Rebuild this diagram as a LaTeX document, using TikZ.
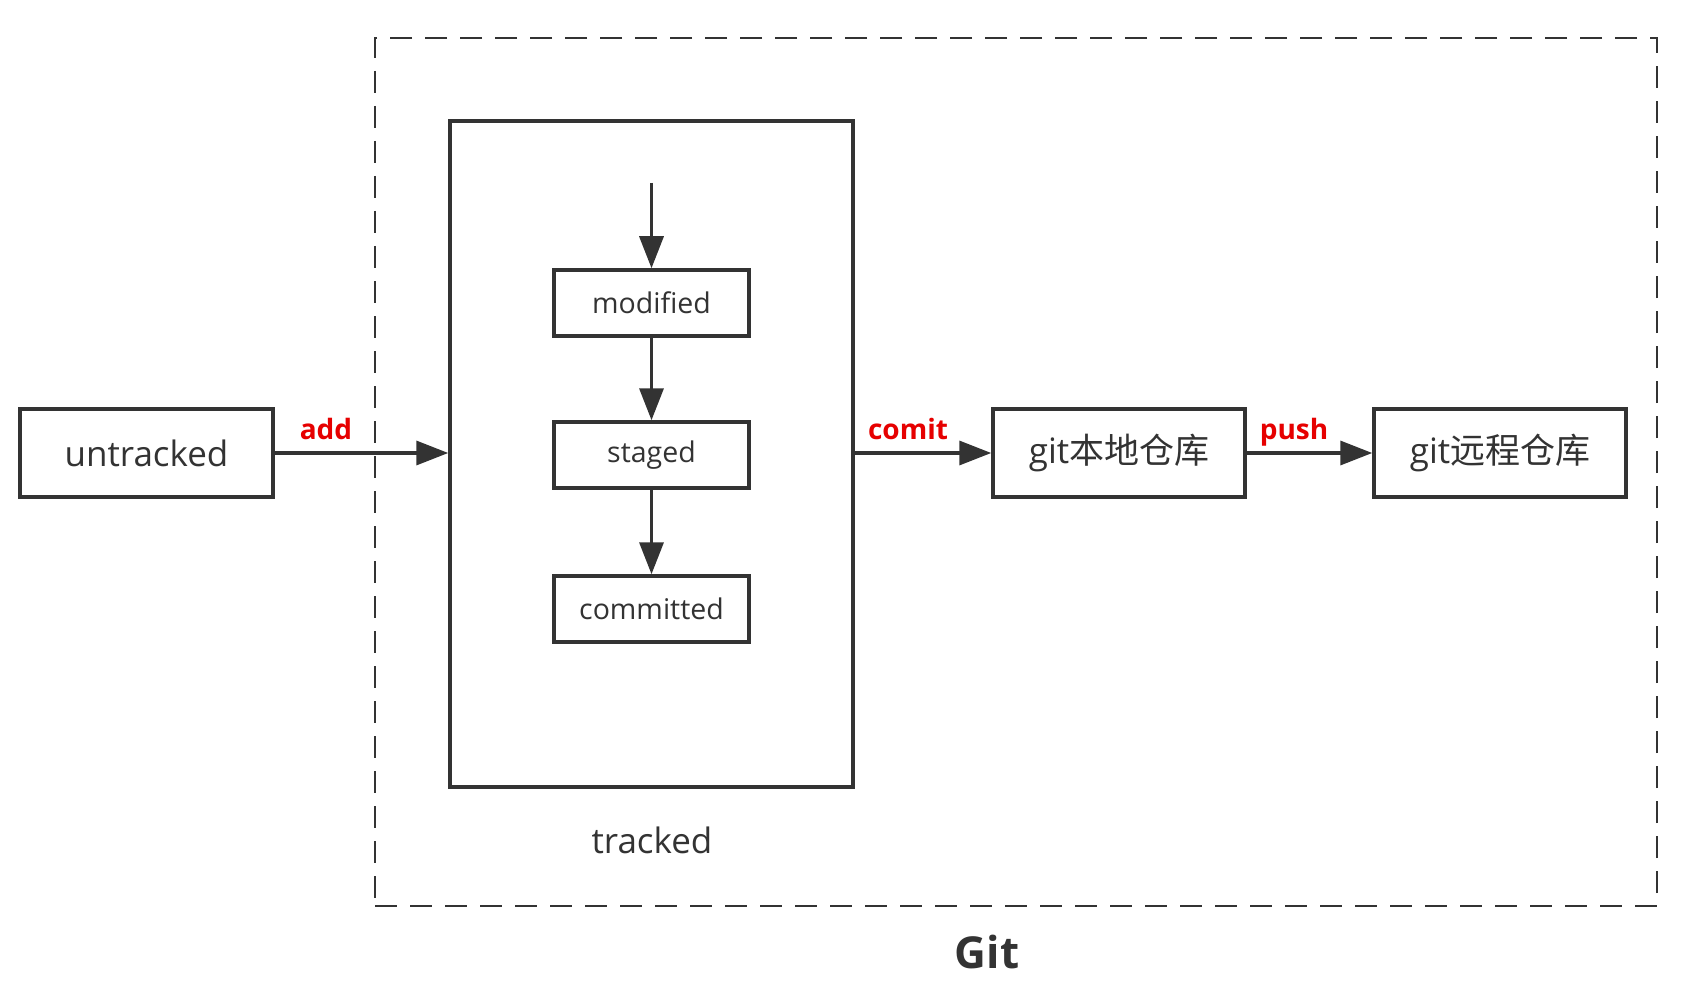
\documentclass[tikz,border=0pt]{standalone}
\usepackage{fontspec}
\setmainfont{Open Sans}
\newfontfamily\cjk{Noto Sans CJK SC}
\usetikzlibrary{arrows.meta}
\definecolor{ink}{HTML}{333333}
\definecolor{lbl}{RGB}{230,0,0}
\tikzset{
  bigbox/.style={draw=ink, line width=3.5pt, text=ink, minimum width=253pt, minimum height=88pt, inner sep=0pt, font=\fontsize{35}{42}\selectfont},
  smallbox/.style={draw=ink, line width=3.5pt, text=ink, minimum width=195pt, minimum height=66pt, inner sep=0pt, font=\fontsize{28.5}{34}\selectfont},
  flow/.style={draw=ink, line width=3.5pt, -{Triangle[length=32pt,width=24pt]}, color=ink},
  edgelbl/.style={text=lbl, anchor=base, font=\bfseries\fontsize{28}{34}\selectfont, inner sep=0pt},
  plainlbl/.style={text=ink, anchor=base, inner sep=0pt, font=\fontsize{35}{42}\selectfont}
}
\begin{document}
\begin{tikzpicture}[x=1pt,y=-1pt]
\useasboundingbox (0,0) rectangle (1687,995);
\fill[white] (0,0) rectangle (1687,995);
% dashed Git boundary
\node[draw=ink, line width=2pt, dash pattern=on 22pt off 13pt, minimum width=1282pt, minimum height=868pt, inner sep=0pt] (gitarea) at (1016,472) {};
% tracked container
\node[draw=ink, line width=3.5pt, minimum width=403pt, minimum height=666pt, inner sep=0pt] (tracked) at (651.5,454) {};
\node[smallbox] (modified) at (651.5,303) {modified};
\node[smallbox] (staged) at (651.5,455) {staged};
\node[smallbox] (committed) at (651.5,609) {committed};
\coordinate (topin) at (651.5,183);
\node[bigbox] (untracked) at (146.5,453) {untracked};
\node[bigbox, minimum width=252pt] (local) at (1119,453) {git{\cjk 本地仓库}};
\node[bigbox, minimum width=252pt] (remote) at (1500,453) {git{\cjk 远程仓库}};
% connectors
\draw[flow] (topin) -- (modified.north);
\draw[flow] (modified.south) -- (staged.north);
\draw[flow] (staged.south) -- (committed.north);
\draw[flow] (untracked.east) -- (untracked.east -| tracked.west);
\draw[flow] (local.west -| tracked.east) -- (local.west);
\draw[flow] (local.east) -- (remote.west);
% labels
\node[edgelbl] (addlbl) at (326,439) {add};
\node[edgelbl] (comitlbl) at (908,439) {comit};
\node[edgelbl] (pushlbl) at (1294,439) {push};
\node[plainlbl] (trackedlbl) at (652,853) {tracked};
\node[plainlbl, font=\bfseries\fontsize{44}{52}\selectfont] (gitlbl) at (987,968) {Git};
\end{tikzpicture}
\end{document}
